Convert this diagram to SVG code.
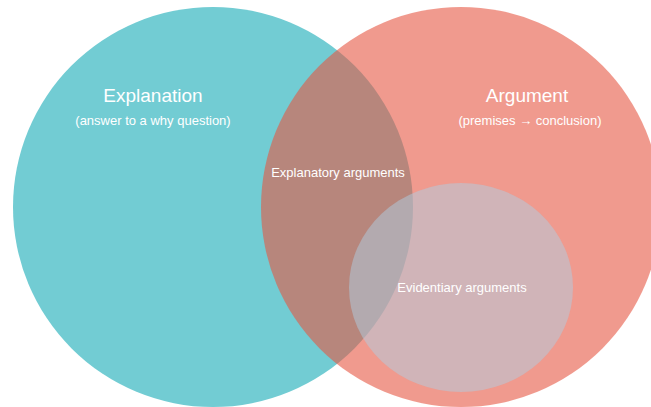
<svg xmlns="http://www.w3.org/2000/svg" width="651" height="407" viewBox="0 0 651 407">
<style>
text{font-family:"Liberation Sans",Arial,sans-serif;fill:#ffffff;text-anchor:middle}
.big{font-size:19px}
.small{font-size:13px}
</style>
<rect width="651" height="407" fill="#ffffff"/>
<g id="explanation">
<circle cx="213" cy="207" r="200" fill="#72CCD3"/>
<text class="big" x="153" y="102">Explanation</text>
<text class="small" x="153" y="125">(answer to a why question)</text>
</g>
<g id="argument">
<circle cx="461" cy="207" r="200" fill="#E65743" fill-opacity="0.6"/>
<text class="big" x="527" y="102">Argument</text>
<text class="small" x="530" y="125">(premises → conclusion)</text>
</g>
<g id="explanatory">
<text class="small" x="338" y="177">Explanatory arguments</text>
</g>
<g id="evidentiary">
<ellipse cx="461" cy="287.5" rx="112" ry="104.5" fill="#B0CEE2" fill-opacity="0.5"/>
<text class="small" x="462" y="292">Evidentiary arguments</text>
</g>
<g id="connectors"/>
</svg>
